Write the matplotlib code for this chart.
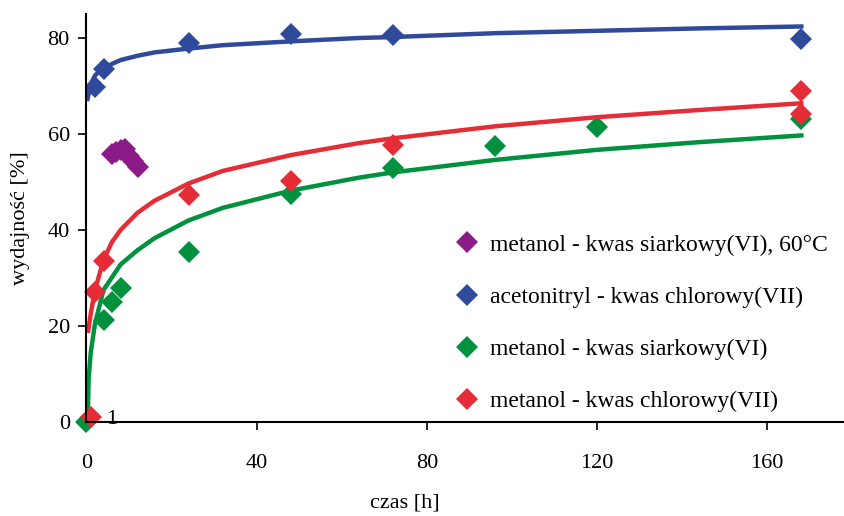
import matplotlib.pyplot as plt

# measured points
t_purple = [6, 7, 8, 9, 10, 11, 12]
y_purple = [55.8, 56.3, 56.6, 56.8, 55.4, 54.3, 53.2]

t_blue = [2, 4, 24, 48, 72, 168]
y_blue = [69.8, 73.5, 79.0, 80.8, 80.6, 79.8]

t_green = [0, 4, 6, 8, 24, 48, 72, 96, 120, 168]
y_green = [0.0, 21.2, 25.0, 27.9, 35.4, 47.6, 53.0, 57.6, 61.5, 63.2]

t_red = [1, 2, 4, 24, 48, 72, 168, 168]
y_red = [1.1, 27.0, 33.6, 47.2, 50.2, 57.7, 68.9, 64.2]

# trend lines
t_fit_blue = [0.25, 1, 2, 4, 8, 12, 16, 24, 32, 48, 64, 72, 96, 120, 144, 168]
y_fit_blue = [67.3, 70.4, 72.2, 73.8, 75.4, 76.3, 77.0, 77.8, 78.5, 79.3, 80.0, 80.2, 81.0, 81.5, 82.0, 82.4]

t_fit_green = [0.3, 0.5, 1, 2, 4, 8, 12, 16, 24, 32, 48, 64, 72, 96, 120, 144, 168]
y_fit_green = [0.5, 9.0, 14.5, 20.5, 27.5, 32.8, 35.8, 38.3, 42.0, 44.6, 48.2, 50.9, 52.0, 54.6, 56.7, 58.3, 59.7]

t_fit_red = [0.4, 1, 2, 4, 6, 8, 12, 16, 24, 32, 48, 64, 72, 96, 120, 144, 168]
y_fit_red = [19.0, 22.6, 27.5, 33.8, 37.5, 40.0, 43.6, 46.1, 49.7, 52.3, 55.6, 58.1, 59.1, 61.6, 63.5, 65.0, 66.4]

labels = [
    "metanol - kwas siarkowy(VI), 60°C",
    "acetonitryl - kwas chlorowy(VII)",
    "metanol - kwas siarkowy(VI)",
    "metanol - kwas chlorowy(VII)",
]

purple = "#8c1a87"
blue = "#2f4a9b"
green = "#00913e"
red = "#e52d37"

plt.rcParams["font.family"] = "Liberation Serif"
plt.rcParams["font.size"] = 16

fig = plt.figure(figsize=(8.45, 5.16), dpi=100)
ax = fig.add_axes([86.5 / 845, 1 - 422 / 516, (843 - 86.5) / 845, (422 - 14) / 516])

ms = 11
lw = 3.2
ax.plot(t_purple, y_purple, "D", color=purple, ms=ms, mew=0, label=labels[0])
ax.plot(t_fit_blue, y_fit_blue, "-", color=blue, lw=lw)
ax.plot(t_blue, y_blue, "D", color=blue, ms=ms, mew=0, label=labels[1])
ax.plot(t_fit_green, y_fit_green, "-", color=green, lw=lw)
ax.plot(t_green, y_green, "D", color=green, ms=ms, mew=0, label=labels[2], clip_on=False)
ax.plot(t_fit_red, y_fit_red, "-", color=red, lw=lw)
ax.plot(t_red, y_red, "D", color=red, ms=ms, mew=0, label=labels[3], clip_on=False)

ax.text(6, 0.6, "1", ha="center", va="center", fontsize=16)

ax.set_xlim(0, 177.8)
ax.set_ylim(0, 85)
ax.set_xticks([0, 40, 80, 120, 160])
ax.set_yticks([0, 20, 40, 60, 80])
ax.spines["top"].set_visible(False)
ax.spines["right"].set_visible(False)
ax.spines["left"].set_linewidth(1.5)
ax.spines["bottom"].set_linewidth(1.5)
ax.tick_params(axis="both", direction="out", length=6, width=1.2)
ax.tick_params(axis="x", pad=17)
ax.tick_params(axis="y", pad=6)

ax.set_xlabel("czas [h]")
ax.set_ylabel("wydajność [%]")
ax.xaxis.set_label_coords(0.421, -0.175)
ax.yaxis.set_label_coords(-0.075, 0.5)

ax.legend(loc="lower left", bbox_to_anchor=(0.472, -0.005), frameon=False,
          handlelength=1.0, handletextpad=0.45, labelspacing=1.3,
          borderpad=0, fontsize=17)

plt.savefig("out.png", dpi=100)
plt.close()
